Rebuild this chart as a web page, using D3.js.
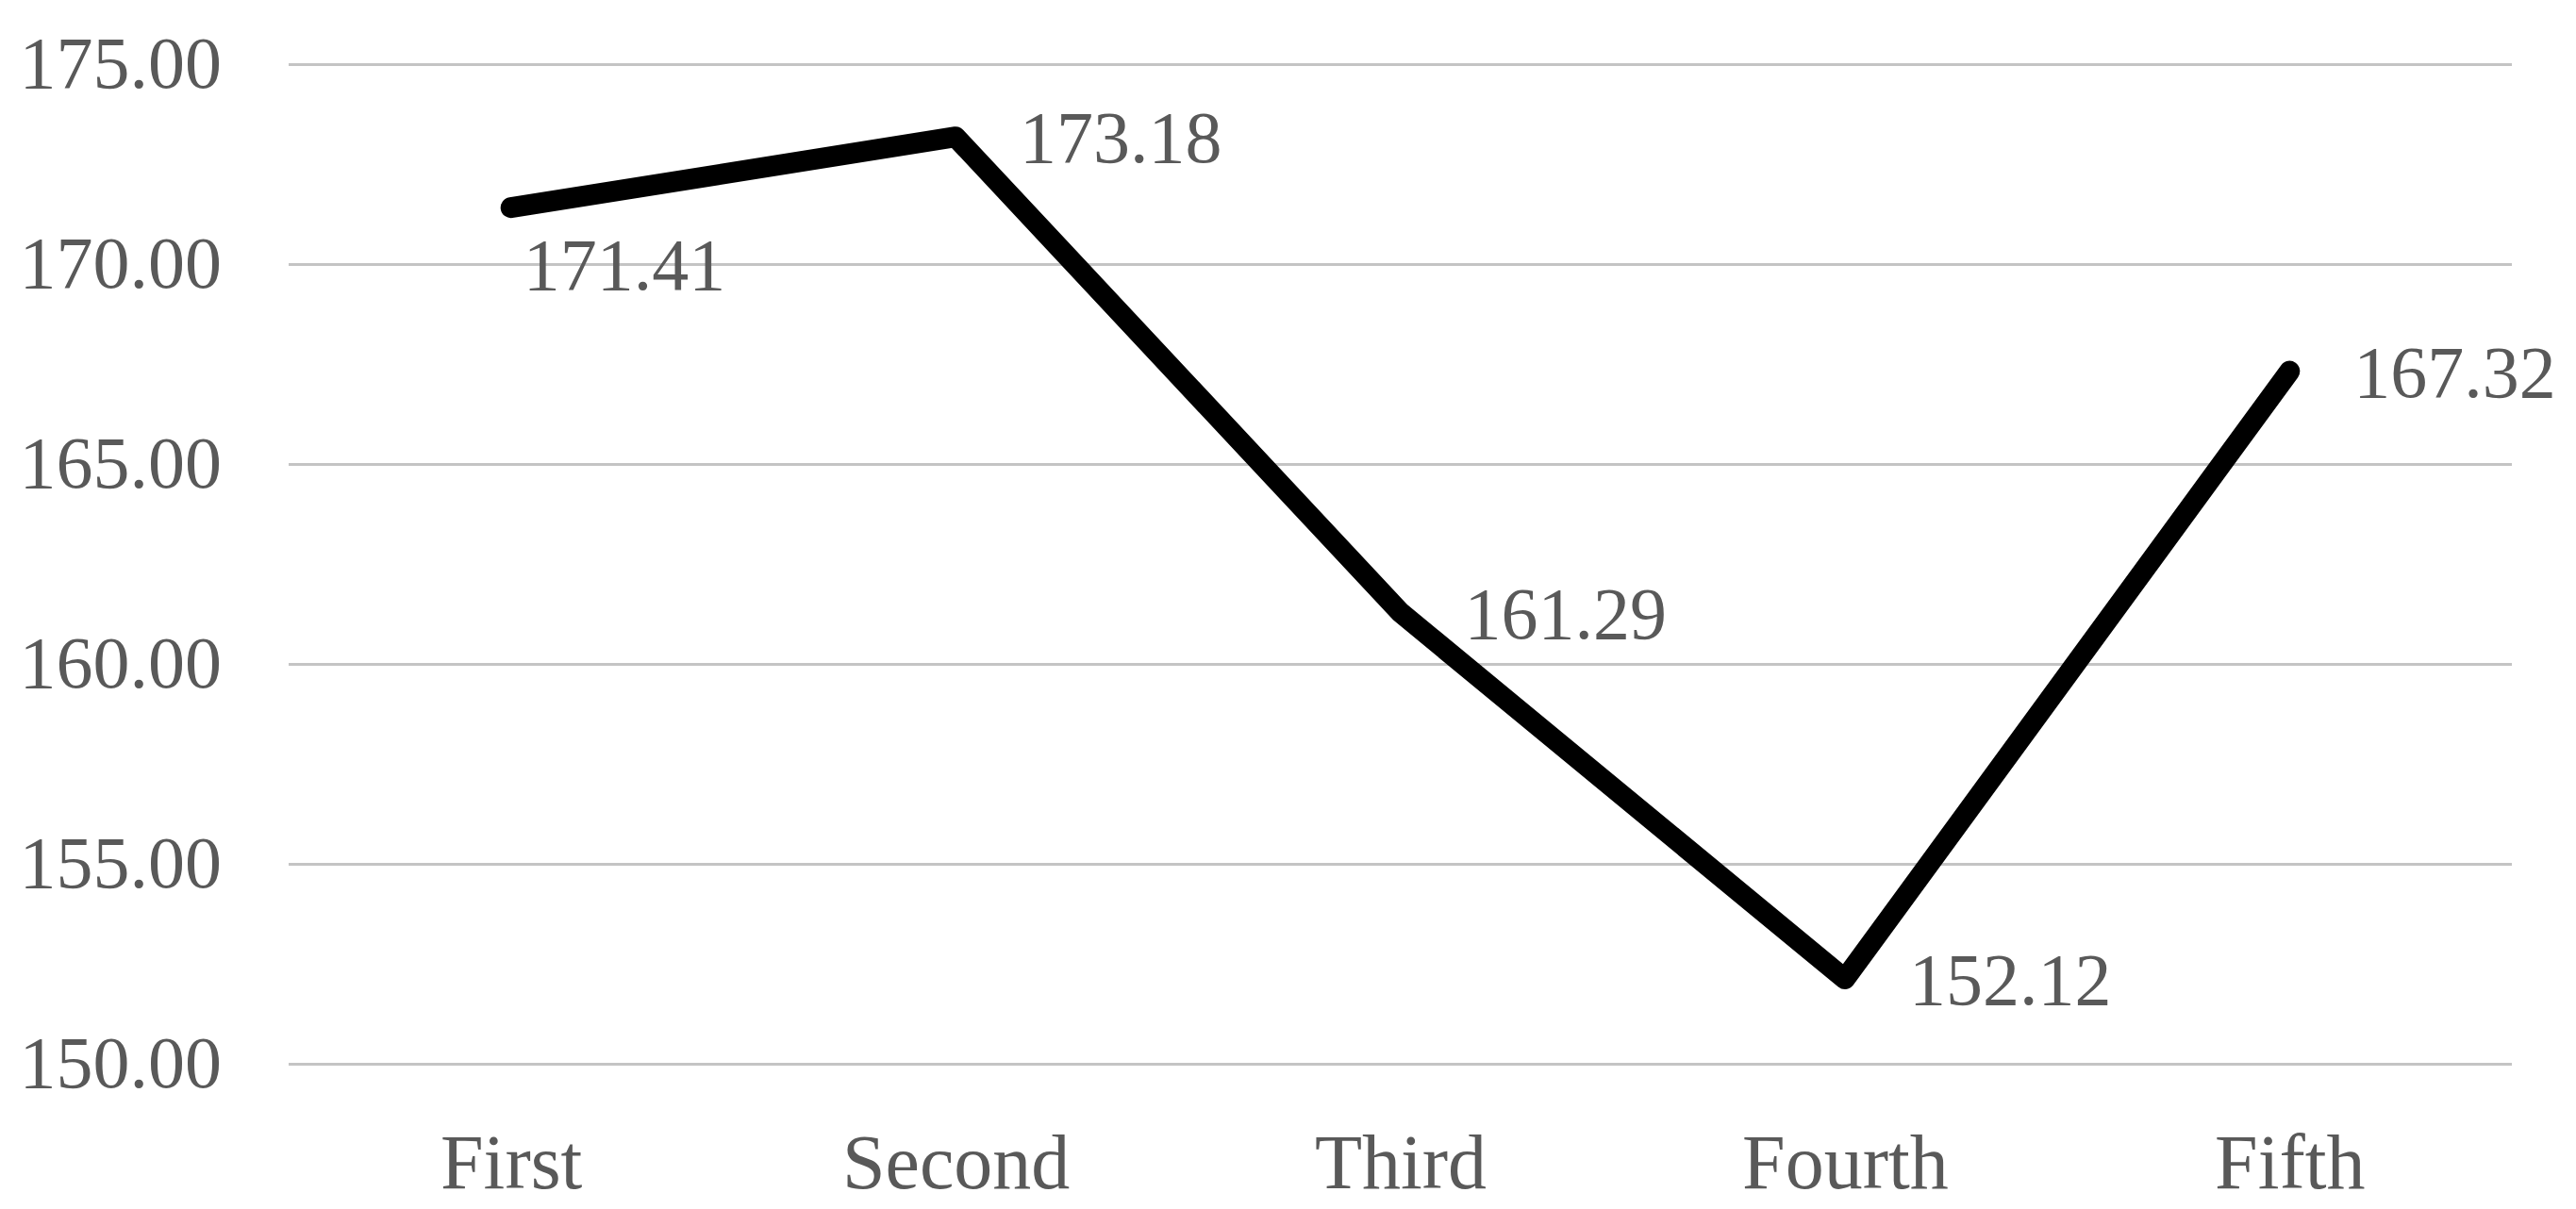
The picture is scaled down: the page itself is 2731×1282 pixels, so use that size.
<!DOCTYPE html>
<html>
<head>
<meta charset="utf-8">
<script src="https://cdn.jsdelivr.net/npm/d3@7/dist/d3.min.js"></script>
<style>
  html, body { margin: 0; padding: 0; background: #fff; }
  svg { display: block; }
</style>
</head>
<body>
<script>
const categories = ["First", "Second", "Third", "Fourth", "Fifth"];
const values = [171.41, 173.18, 161.29, 152.12, 167.32];
const yTicks = [150, 155, 160, 165, 170, 175];
const labelPlacement = ["below", "right", "right", "right", "right"];

const W = 2731, H = 1282;
const margin = { top: 68, right: 68, bottom: 154, left: 306 };
const FONT = "'Liberation Serif', 'Times New Roman', serif";
const TEXT = "#595959";

const svg = d3.select("body").append("svg").attr("width", W).attr("height", H);

const x = d3.scalePoint().domain(categories).range([margin.left, W - margin.right]).padding(0.5);
const y = d3.scaleLinear().domain([150, 175]).range([H - margin.bottom, margin.top]);

// gridlines
const grid = svg.append("g")
  .attr("transform", `translate(${margin.left},0)`)
  .call(d3.axisLeft(y).tickValues(yTicks).tickSize(-(W - margin.left - margin.right)).tickFormat(""));
grid.select(".domain").remove();
grid.selectAll("line").attr("stroke", "#c4c4c4").attr("stroke-width", 3);

// y axis labels
const yAxis = svg.append("g")
  .attr("transform", `translate(${margin.left},0)`)
  .call(d3.axisLeft(y).tickValues(yTicks).tickSize(0).tickPadding(71).tickFormat(d3.format(".2f")));
yAxis.select(".domain").remove();
yAxis.selectAll("text")
  .attr("font-family", FONT).attr("font-size", 78).attr("fill", TEXT);

// x axis labels
const xAxis = svg.append("g")
  .attr("transform", `translate(0,${H - margin.bottom})`)
  .call(d3.axisBottom(x).tickSize(0).tickPadding(74));
xAxis.select(".domain").remove();
xAxis.selectAll("text")
  .attr("font-family", FONT).attr("font-size", 82).attr("fill", TEXT);

// line
const line = d3.line().x((d, i) => x(categories[i])).y(d => y(d));
svg.append("path")
  .datum(values)
  .attr("d", line)
  .attr("fill", "none")
  .attr("stroke", "#000")
  .attr("stroke-width", 22)
  .attr("stroke-linecap", "round")
  .attr("stroke-linejoin", "round");

// data labels
svg.append("g").selectAll("text")
  .data(values)
  .join("text")
  .attr("x", (d, i) => x(categories[i]) + (labelPlacement[i] === "below" ? 13 : 68))
  .attr("y", (d, i) => y(d) + (labelPlacement[i] === "below" ? 59 : 0))
  .attr("dy", "0.35em")
  .attr("font-family", FONT).attr("font-size", 78).attr("fill", TEXT)
  .text(d => d3.format(".2f")(d));
</script>
</body>
</html>
